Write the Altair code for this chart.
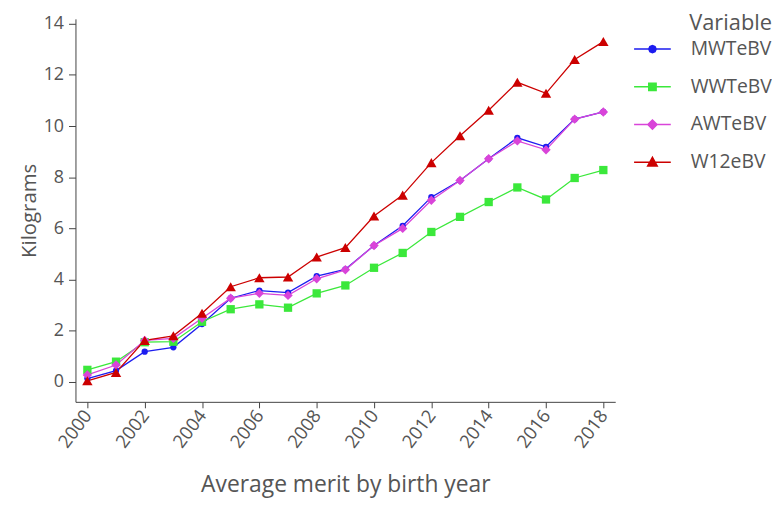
import altair as alt
import pandas as pd

years = list(range(2000, 2019))
variables = ["MWTeBV", "WWTeBV", "AWTeBV", "W12eBV"]
mwtebv = [0.13, 0.44, 1.18, 1.35, 2.26, 3.27, 3.57, 3.49, 4.13, 4.4, 5.33, 6.1, 7.22, 7.87, 8.72, 9.54, 9.19, 10.27, 10.55]
wwtebv = [0.47, 0.79, 1.55, 1.57, 2.35, 2.84, 3.03, 2.9, 3.46, 3.77, 4.46, 5.04, 5.86, 6.45, 7.03, 7.6, 7.13, 7.97, 8.28]
awtebv = [0.27, 0.66, 1.62, 1.7, 2.49, 3.27, 3.46, 3.38, 4.03, 4.38, 5.33, 6.0, 7.1, 7.87, 8.72, 9.42, 9.07, 10.27, 10.55]
w12ebv = [0.04, 0.37, 1.62, 1.8, 2.68, 3.72, 4.07, 4.1, 4.88, 5.25, 6.48, 7.3, 8.57, 9.62, 10.62, 11.71, 11.28, 12.6, 13.3]
colors = ["#1c1cf0", "#3be83b", "#d944d9", "#cc0000"]
shapes = ["circle", "square", "diamond", "triangle-up"]
sizes = [40, 70, 90, 110]
legend_paths = [
    "M-1,0H1M0.2,0L0.14,0.14L0,0.2L-0.14,0.14L-0.2,0L-0.14,-0.14L0,-0.2L0.14,-0.14Z",
    "M-1,0H1M-0.2,-0.2H0.2V0.2H-0.2Z",
    "M-1,0H1M0,-0.25L0.25,0L0,0.25L-0.25,0Z",
    "M-1,0H1M0,-0.27L0.26,0.2H-0.26Z",
]
x_ticks = list(range(2000, 2019, 2))
y_ticks = list(range(0, 15, 2))

series = [mwtebv, wwtebv, awtebv, w12ebv]
rows = []
for name, vals in zip(variables, series):
    for yr, v in zip(years, vals):
        rows.append({"Year": yr, "Value": v, "Variable": name})
df = pd.DataFrame(rows)

font = "Open Sans"
grey = "#555555"

x_enc = alt.X(
    "Year:Q",
    scale=alt.Scale(domain=[1999.585, 2018.415], nice=False, zero=False),
    axis=alt.Axis(
        title="Average merit by birth year",
        values=x_ticks,
        format="d",
        labelAngle=307,
        labelAlign="right",
        labelBaseline="middle",
        labelFontSize=18.5,
        titleFontSize=23,
        titlePadding=23,
        tickSize=6,
        labelPadding=4,
    ),
)
y_enc = alt.Y(
    "Value:Q",
    scale=alt.Scale(domain=[-0.78, 14.19], nice=False, zero=False),
    axis=alt.Axis(
        title="Kilograms",
        values=y_ticks,
        labelFontSize=18,
        titleFontSize=20.5,
        titlePadding=4,
        tickSize=7,
        labelPadding=5,
    ),
)

base = alt.Chart(df)

layers = []
for name, col in zip(variables, colors):
    layers.append(
        base.transform_filter(alt.datum.Variable == name)
        .mark_line(strokeWidth=1.3, color=col)
        .encode(x=x_enc, y=y_enc, order="Year:Q")
    )
for name, col, shp, sz in zip(variables, colors, shapes, sizes):
    layers.append(
        base.transform_filter(alt.datum.Variable == name)
        .mark_point(shape=shp, filled=True, size=sz, opacity=1, color=col)
        .encode(x=alt.X("Year:Q"), y=alt.Y("Value:Q"))
    )

legend_props = dict(
    title="Variable",
    orient="none",
    legendX=562,
    legendY=-6,
    titleFontSize=22,
    titleFont=font,
    titleColor=grey,
    titleFontWeight="normal",
    titleAnchor="end",
    titlePadding=-5,
    labelFontSize=19.5,
    labelFont=font,
    labelColor=grey,
    labelOffset=19,
    symbolSize=1369,
    symbolOpacity=1,
    symbolStrokeWidth=1.5,
)

legend_layer = base.mark_point(filled=True, opacity=0).encode(
    x=alt.X("Year:Q"),
    y=alt.Y("Value:Q"),
    fill=alt.Fill("Variable:N", scale=alt.Scale(domain=variables, range=colors),
                  legend=alt.Legend(**legend_props)),
    stroke=alt.Stroke("Variable:N", scale=alt.Scale(domain=variables, range=colors),
                      legend=alt.Legend(**legend_props)),
    shape=alt.Shape("Variable:N", scale=alt.Scale(domain=variables, range=legend_paths),
                    legend=alt.Legend(**legend_props)),
)
layers.append(legend_layer)

chart = (
    alt.layer(*layers)
    .properties(
        width=544,
        height=386,
        autosize=alt.AutoSizeParams(type="none"),
        padding={"left": 68, "top": 9, "right": 158, "bottom": 97},
    )
    .configure_view(stroke=None)
    .configure_legend(rowPadding=9)
    .configure_axis(
        grid=False,
        domainColor="#444444",
        tickColor="#444444",
        labelColor=grey,
        titleColor=grey,
        labelFont=font,
        titleFont=font,
        titleFontWeight="normal",
    )
)

chart.save("out.html", embed_options={"renderer": "svg", "actions": False})
